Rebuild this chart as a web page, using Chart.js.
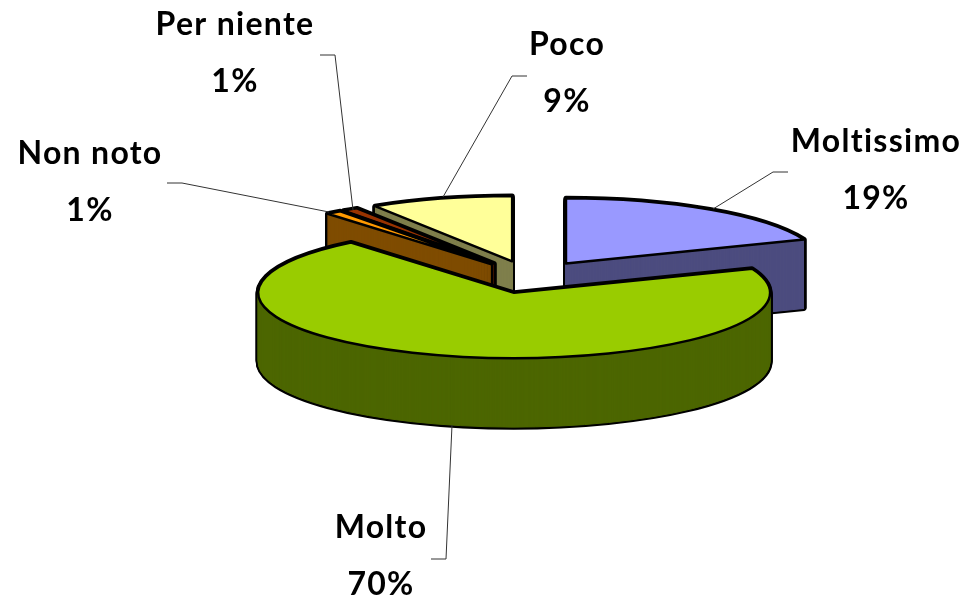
<!DOCTYPE html>
<html>
<head>
<meta charset="utf-8">
<style>
  html, body { margin: 0; padding: 0; background: #fff; }
  canvas { display: block; }
</style>
<script src="https://cdn.jsdelivr.net/npm/chart.js@4/dist/chart.umd.min.js"></script>
</head>
<body>
<canvas id="pie" width="964" height="599"></canvas>
<script>
// Data, clockwise from 12 o'clock
const categories = ["Moltissimo", "Molto", "Non noto", "Per niente", "Poco"];
const percentages = [19, 70, 1, 1, 9];
const topColors = ["#9999FF", "#99CC00", "#FF9900", "#993300", "#FFFF99"];
const wallColors = ["#4C4C7F", "#4C6600", "#7F4C00", "#662200", "#7F7F4C"];

// 3D look: tilt squashes the circle, depth is the wall height, explode pulls slices out
const tilt = 0.255;
const depth = 69;
const explode = 64;
// Back slices are painted first
const paintOrder = [4, 3, 2, 0, 1];

// Where the labels and their leader lines go, same order as categories
const labelCenters = [876, 381, 90, 235, 567];
const labelBaselines = [152, 538, 164, 35, 55];
const leaders = [
  [[788, 172], [773, 172], [713, 209]],
  [[431, 559], [446, 559], [452, 425]],
  [[167, 183], [182, 183], [329, 212]],
  [[320, 55], [335, 55], [353, 210]],
  [[527, 76], [512, 76], [443, 197]]
];

function sliceShift(arc) {
  const mid = (arc.startAngle + arc.endAngle) / 2;
  return {x: Math.cos(mid) * explode, y: Math.sin(mid) * explode * tilt};
}

//Fill with the library's own arc element, inside a squashed transform
function fillSlice(ctx, arc, color, dy) {
  const shift = sliceShift(arc);
  const saved = arc.options;
  arc.options = Object.assign({}, saved, {backgroundColor: color, borderWidth: 0});
  ctx.save();
  ctx.translate(arc.x + shift.x, arc.y + shift.y + dy);
  ctx.scale(1, tilt);
  ctx.translate(-arc.x, -arc.y);
  arc.draw(ctx);
  ctx.restore();
  arc.options = saved;
}

//Outline is stroked without the squash so the line stays even
function strokeSlice(ctx, arc, color, width, dy) {
  const shift = sliceShift(arc);
  const x = arc.x + shift.x;
  const y = arc.y + shift.y + dy;
  ctx.beginPath();
  ctx.moveTo(x, y);
  ctx.ellipse(x, y, arc.outerRadius, arc.outerRadius * tilt, 0, arc.startAngle, arc.endAngle);
  ctx.closePath();
  ctx.lineWidth = width;
  ctx.lineJoin = "round";
  ctx.strokeStyle = color;
  ctx.stroke();
}

const pie3d = {
  id: "pie3d",
  beforeDatasetDraw(chart, args) {
    const ctx = chart.ctx;
    const arcs = args.meta.data;
    paintOrder.forEach((i) => {
      const arc = arcs[i];
      //Black silhouette first, then the wall on top of it
      for (let d = depth; d >= 0; d--) strokeSlice(ctx, arc, "#000", 5, d);
      for (let d = depth; d >= 0; d--) {
        fillSlice(ctx, arc, wallColors[i], d);
        strokeSlice(ctx, arc, wallColors[i], 1, d);
      }
      fillSlice(ctx, arc, topColors[i], 0);
      strokeSlice(ctx, arc, "#000", 2.5, 0);
    });
    return false;
  },
  afterDraw(chart) {
    const ctx = chart.ctx;
    ctx.save();
    ctx.strokeStyle = "#333";
    ctx.lineWidth = 1;
    leaders.forEach((points) => {
      ctx.beginPath();
      points.forEach((p, j) => j ? ctx.lineTo(p[0], p[1]) : ctx.moveTo(p[0], p[1]));
      ctx.stroke();
    });
    ctx.fillStyle = "#000";
    ctx.textAlign = "center";
    ctx.textBaseline = "alphabetic";
    ctx.font = 'bold 32px Lato';
    ctx.letterSpacing = "1.3px";
    categories.forEach((name, i) => {
      ctx.fillText(name, labelCenters[i], labelBaselines[i]);
      ctx.fillText(percentages[i] + "%", labelCenters[i], labelBaselines[i] + 57);
    });
    ctx.restore();
  }
};

new Chart(document.getElementById("pie"), {
  type: "pie",
  plugins: [pie3d],
  data: {
    labels: categories,
    datasets: [{data: percentages, backgroundColor: topColors, borderWidth: 0}]
  },
  options: {
    responsive: false,
    animation: false,
    radius: 256,
    //Padding puts the pie center where the reference has it
    layout: {padding: {left: 96, bottom: 45}},
    plugins: {legend: {display: false}, tooltip: {enabled: false}}
  }
});
</script>
</body>
</html>
